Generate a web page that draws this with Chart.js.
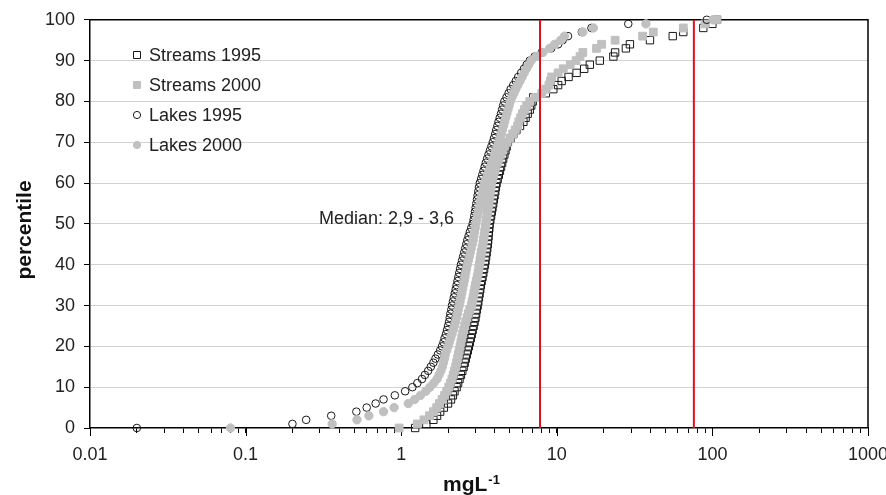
<!DOCTYPE html>
<html>
<head>
<meta charset="utf-8">
<title>Cumulative distribution</title>
<script src="https://cdn.jsdelivr.net/npm/chart.js@4.4.1/dist/chart.umd.min.js"></script>
<style>
  body { margin: 0; background: #fff; }
  #chart { display: block; }
</style>
</head>
<body>
<canvas id="chart" width="886" height="495"></canvas>
<script>
// sorted concentrations (mg/L), one value per percentile rank
const streams1995 = [1.23, 1.45, 1.61, 1.70, 1.78, 1.88, 2.00, 2.09, 2.15, 2.20,
    2.27, 2.32, 2.37, 2.42, 2.47, 2.52, 2.56, 2.60, 2.64, 2.68,
    2.72, 2.76, 2.80, 2.84, 2.88, 2.92, 2.96, 3.00, 3.03, 3.06,
    3.10, 3.13, 3.16, 3.19, 3.22, 3.25, 3.29, 3.33, 3.37, 3.41,
    3.45, 3.48, 3.51, 3.54, 3.57, 3.60, 3.62, 3.64, 3.66, 3.68,
    3.70, 3.74, 3.78, 3.82, 3.86, 3.90, 3.94, 3.98, 4.02, 4.06,
    4.10, 4.17, 4.24, 4.31, 4.38, 4.45, 4.52, 4.60, 4.68, 4.76,
    4.85, 5.05, 5.25, 5.50, 5.80, 6.10, 6.30, 6.50, 6.70, 6.85,
    7.00, 7.06, 8.5, 9.5, 10.2, 10.75, 11.9, 13.4, 15.0, 16.3,
    18.9, 23.1, 23.7, 27.8, 29.5, 39.7, 55.6, 65, 87.4, 100,
    107];
const streams2000 = [0.97, 1.27, 1.40, 1.52, 1.61, 1.69, 1.76, 1.83, 1.90, 1.96,
    2.02, 2.07, 2.12, 2.16, 2.20, 2.24, 2.27, 2.30, 2.33, 2.36,
    2.39, 2.42, 2.45, 2.48, 2.52, 2.56, 2.60, 2.65, 2.70, 2.76,
    2.83, 2.86, 2.90, 2.93, 2.97, 3.00, 3.04, 3.08, 3.12, 3.15,
    3.18, 3.21, 3.24, 3.27, 3.31, 3.35, 3.38, 3.41, 3.44, 3.47,
    3.50, 3.53, 3.56, 3.59, 3.62, 3.65, 3.68, 3.71, 3.74, 3.77,
    3.80, 3.86, 3.92, 3.98, 4.06, 4.14, 4.24, 4.34, 4.46, 4.60,
    4.80, 5.00, 5.20, 5.40, 5.60, 5.70, 5.85, 6.00, 6.20, 6.40,
    6.70, 7.30, 8.00, 8.50, 8.90, 9.10, 9.27, 10.2, 11.0, 12.2,
    13.3, 14.1, 14.7, 18.0, 19.4, 23.7, 35.6, 41.7, 65, 89.6,
    107];
const lakes1995 = [0.02, 0.20, 0.245, 0.355, 0.515, 0.60, 0.685, 0.77, 0.91, 1.06,
    1.18, 1.27, 1.36, 1.42, 1.49, 1.55, 1.61, 1.66, 1.72, 1.78,
    1.83, 1.87, 1.90, 1.94, 1.97, 2.00, 2.03, 2.05, 2.07, 2.10,
    2.12, 2.15, 2.18, 2.21, 2.24, 2.27, 2.30, 2.33, 2.36, 2.39,
    2.42, 2.46, 2.50, 2.54, 2.58, 2.62, 2.66, 2.71, 2.76, 2.82,
    2.88, 2.92, 2.95, 2.98, 3.01, 3.04, 3.07, 3.10, 3.13, 3.16,
    3.20, 3.26, 3.32, 3.38, 3.44, 3.50, 3.57, 3.64, 3.72, 3.80,
    3.88, 3.95, 4.02, 4.08, 4.15, 4.22, 4.30, 4.38, 4.45, 4.52,
    4.60, 4.75, 4.90, 5.05, 5.25, 5.45, 5.65, 5.90, 6.15, 6.40,
    6.70, 7.20, 8.0, 9.2, 10.2, 10.9, 11.8, 14.5, 16.7, 28.8,
    92];
const lakes2000 = [0.08, 0.36, 0.52, 0.62, 0.77, 0.90, 1.11, 1.22, 1.33, 1.44,
    1.53, 1.62, 1.70, 1.75, 1.80, 1.84, 1.87, 1.90, 1.92, 1.96,
    2.00, 2.04, 2.08, 2.12, 2.16, 2.20, 2.24, 2.27, 2.30, 2.33,
    2.36, 2.39, 2.42, 2.45, 2.48, 2.51, 2.54, 2.57, 2.60, 2.63,
    2.66, 2.70, 2.74, 2.78, 2.82, 2.86, 2.90, 2.93, 2.96, 2.99,
    3.02, 3.06, 3.10, 3.14, 3.18, 3.22, 3.26, 3.30, 3.34, 3.38,
    3.42, 3.50, 3.58, 3.66, 3.74, 3.82, 3.90, 3.98, 4.06, 4.15,
    4.25, 4.32, 4.40, 4.47, 4.55, 4.62, 4.70, 4.78, 4.86, 4.94,
    5.02, 5.15, 5.30, 5.45, 5.62, 5.80, 5.98, 6.17, 6.38, 6.60,
    6.85, 7.35, 8.15, 9.0, 9.7, 10.6, 11.2, 14.7, 17.2, 37.4,
    101];

const seriesNames = ['Streams 1995', 'Streams 2000', 'Lakes 1995', 'Lakes 2000'];
const limitValues = [7.8, 76];
const decadeLabels = [0.01, 0.1, 1, 10, 100, 1000];
const medianNote = 'Median: 2,9 - 3,6';

const FONT = 'Arial, "Liberation Sans", sans-serif';
const GREY = '#c0c0c0';
const DARK = '#1a1a1a';

// percentile rank of each sorted value
function toPoints(values) {
    return values.map((v, i) => ({ x: v, y: i * 100 / (values.length - 1) }));
}

function markerSet(label, values, style, filled, radius, order) {
    return {
        label: label,
        data: toPoints(values),
        pointStyle: style,
        pointRadius: radius,
        pointBorderWidth: 1,
        borderColor: filled ? GREY : DARK,
        backgroundColor: filled ? GREY : 'rgba(0,0,0,0)',
        showLine: false,
        clip: false,
        order: order
    };
}

const datasets = [
    markerSet(seriesNames[0], streams1995, 'rect', false, 5.2, 4),
    markerSet(seriesNames[1], streams2000, 'rect', true, 5.5, 3),
    markerSet(seriesNames[2], lakes1995, 'circle', false, 3.8, 2),
    markerSet(seriesNames[3], lakes2000, 'circle', true, 4.2, 1)
];
limitValues.forEach(v => {
    datasets.push({
        label: '',
        data: [{ x: v, y: 0 }, { x: v, y: 100 }],
        type: 'line',
        showLine: true,
        borderColor: '#e3101c',
        borderWidth: 2,
        pointRadius: 0,
        order: 0
    });
});

const extras = {
    id: 'extras',
    beforeDatasetsDraw(chart) {
        const { ctx, chartArea: a } = chart;
        ctx.save();
        ctx.strokeStyle = '#000';
        ctx.lineWidth = 1.5;
        ctx.beginPath();
        ctx.moveTo(a.left, a.top);
        ctx.lineTo(a.right, a.top);
        ctx.lineTo(a.right, a.bottom);
        ctx.stroke();
        // longer marks on the decades
        const x = chart.scales.x;
        ctx.lineWidth = 1;
        ctx.beginPath();
        decadeLabels.forEach(d => {
            const px = Math.round(x.getPixelForValue(d)) + 0.5;
            ctx.moveTo(px, a.bottom);
            ctx.lineTo(px, a.bottom + 8);
        });
        ctx.stroke();
        ctx.restore();
    },
    afterDraw(chart) {
        const { ctx } = chart;
        ctx.save();
        ctx.fillStyle = '#222';

        // legend
        ctx.font = '18px ' + FONT;
        ctx.textBaseline = 'middle';
        ctx.textAlign = 'left';
        chart.data.datasets.slice(0, 4).forEach((ds, i) => {
            const cy = 55 + i * 30;
            const cx = 137;
            ctx.beginPath();
            if (ds.pointStyle === 'rect') {
                ctx.rect(cx - 3.5, cy - 3.5, 7, 7);
            } else {
                ctx.arc(cx, cy, 3.6, 0, Math.PI * 2);
            }
            ctx.fillStyle = ds.backgroundColor;
            ctx.fill();
            ctx.strokeStyle = ds.borderColor;
            ctx.lineWidth = 1;
            ctx.stroke();
            ctx.fillStyle = '#222';
            ctx.fillText(ds.label, 149, cy + 1);
        });

        ctx.fillText(medianNote, 319, 219);

        // axis titles
        ctx.fillStyle = '#111';
        ctx.font = 'bold 21px ' + FONT;
        ctx.save();
        ctx.translate(25, 230);
        ctx.rotate(-Math.PI / 2);
        ctx.textAlign = 'center';
        ctx.fillText('percentile', 0, 0);
        ctx.restore();

        ctx.textBaseline = 'alphabetic';
        ctx.fillText('mgL', 443, 491);
        const w = ctx.measureText('mgL').width;
        ctx.font = 'bold 13px ' + FONT;
        ctx.fillText('-1', 443 + w + 1, 484);
        ctx.restore();
    }
};

new Chart(document.getElementById('chart'), {
    type: 'scatter',
    data: { datasets: datasets },
    plugins: [extras],
    options: {
        responsive: false,
        animation: false,
        layout: { padding: { top: 16, right: 18, left: 0, bottom: 0 } },
        plugins: {
            legend: { display: false },
            tooltip: { enabled: false }
        },
        scales: {
            x: {
                type: 'logarithmic',
                min: 0.01,
                max: 1000,
                afterBuildTicks(scale) {
                    const ticks = [];
                    decadeLabels.forEach(d => {
                        for (let k = 1; k <= 9; k++) {
                            if (d === 1000 && k > 1) break;
                            ticks.push({ value: +(d * k).toPrecision(3) });
                        }
                    });
                    scale.ticks = ticks;
                },
                afterFit(scale) {
                    scale.height = 67;
                    scale.paddingLeft = 0;
                    scale.paddingRight = 0;
                },
                grid: {
                    drawOnChartArea: false,
                    drawTicks: true,
                    tickLength: 5,
                    color: '#000',
                    tickColor: '#000'
                },
                border: { display: true, color: '#000', width: 1.5 },
                ticks: {
                    autoSkip: false,
                    maxRotation: 0,
                    padding: 11,
                    color: '#222',
                    font: { family: FONT, size: 18 },
                    callback(v) {
                        const d = decadeLabels.find(t => Math.abs(t - v) / t < 1e-6);
                        return d === undefined ? '' : String(d);
                    }
                }
            },
            y: {
                min: 0,
                max: 100,
                afterFit(scale) {
                    scale.width = 90;
                },
                grid: {
                    color: ctx => (ctx.tick && (ctx.tick.value === 0 || ctx.tick.value === 100)) ? 'rgba(0,0,0,0)' : '#d2d2d2',
                    tickColor: '#000',
                    tickLength: 6,
                    lineWidth: 1
                },
                border: { display: true, color: '#000', width: 1.5 },
                ticks: {
                    stepSize: 10,
                    padding: 9,
                    color: '#222',
                    font: { family: FONT, size: 18 }
                }
            }
        }
    }
});
</script>
</body>
</html>
